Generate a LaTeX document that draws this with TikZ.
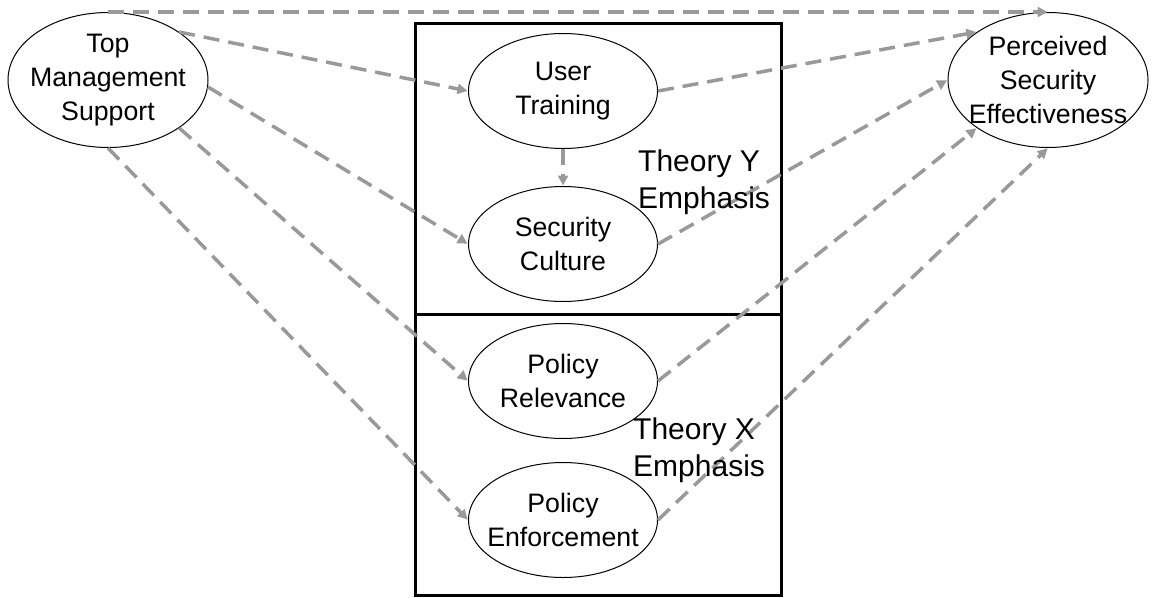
\documentclass[tikz,border=0pt]{standalone}
\usepackage{fontspec}
\setmainfont{Liberation Sans}
\usetikzlibrary{shapes.geometric,arrows.meta}

\tikzset{
  construct/.style={ellipse, draw=black, line width=1pt, fill=white,
    inner xsep=-22pt, inner ysep=0pt,
    align=center, font=\fontsize{26.7}{34}\selectfont},
  bigconstruct/.style={construct, minimum width=200pt, minimum height=135pt},
  smallconstruct/.style={construct, minimum width=189pt, minimum height=115pt},
  path/.style={draw=black!40, line width=3.5pt, dash pattern=on 16pt off 9pt,
    -{Triangle[length=10pt,width=10pt]}, shorten >=0.5pt},
  theory/.style={align=left, anchor=north west, inner sep=0pt,
    font=\fontsize{30}{37}\selectfont},
  frame/.style={draw=black, line width=3pt}
}

\begin{document}
\begin{tikzpicture}[x=1pt, y=-1pt]
\useasboundingbox (0,0) rectangle (1155,597);

% constructs
\node[bigconstruct] (tms) at (108,80) {Top\\Management\\Support};
\node[bigconstruct] (pse) at (1048,80) {Perceived\\Security\\Effectiveness};
\node[smallconstruct] (ut) at (563,91) {User\\Training};
\node[smallconstruct] (sc) at (563,244) {Security\\Culture};
\node[smallconstruct] (pr) at (563,381) {Policy\\Relevance};
\node[smallconstruct] (pe) at (563,520) {Policy\\Enforcement};

% group frame
\draw[frame] (415,23) rectangle (781,595);
\draw[frame] (415,314) -- (781,314);

% paths from top management support
\draw[path] (tms.north) -- (pse.north);
\draw[path] (tms.34) -- (ut.west);
\draw[path] (tms.-4) -- (sc.west);
\draw[path] (tms.-34) -- (pr.west);
\draw[path] (tms.south) -- (pe.west);

% paths between constructs
\draw[path] (ut.south) -- (sc.north);
\draw[path] (ut.east) -- (pse.146);
\draw[path] (sc.east) -- (pse.west);
\draw[path] (pr.east) -- (pse.214);
\draw[path] (pe.east) -- (pse.south);

% group labels
\node[theory] (thy) at (638,150) {Theory Y\\Emphasis};
\node[theory] (thx) at (633,418) {Theory X\\Emphasis};
\end{tikzpicture}
\end{document}
